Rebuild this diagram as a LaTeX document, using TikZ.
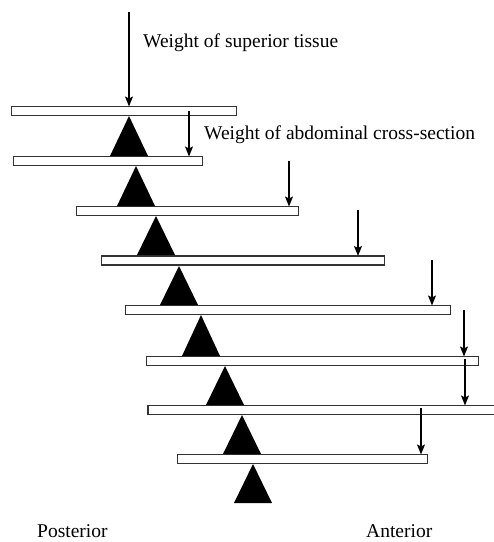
\documentclass[tikz,border=0pt]{standalone}
\usepackage{fontspec}
\setmainfont{Liberation Serif}
\usetikzlibrary{arrows.meta}
\begin{document}
\begin{tikzpicture}[x=1pt,y=-1pt,
  beam/.style={draw=black!80, line width=1.1pt, fill=white, rectangle, inner sep=0pt, minimum height=9pt},
  pivot/.style={fill=black},
  load/.style={draw=black, line width=1.4pt, -{Stealth[length=10pt,width=8pt,inset=2pt]}, shorten >=-0.5pt},
  lbl/.style={font=\fontsize{19.5}{23}\selectfont, inner sep=0pt, anchor=base west}]
\useasboundingbox (0,0) rectangle (494,542);
\clip (0,0) rectangle (494,542);
% beams
\node[beam, minimum width=225pt] (b1) at (124,111) {};
\node[beam, minimum width=189pt] (b2) at (108,161) {};
\node[beam, minimum width=222pt] (b3) at (187.5,211) {};
\node[beam, minimum width=283pt] (b4) at (243,260.5) {};
\node[beam, minimum width=325pt] (b5) at (288,310) {};
\node[beam, minimum width=332pt] (b6) at (312.5,361) {};
\node[beam, minimum width=362pt] (b7) at (329,410) {};
\node[beam, minimum width=250pt] (b8) at (302.5,459) {};
% pivots
\fill[pivot] (129,116) -- (110,156) -- (148,156) -- cycle;
\fill[pivot] (136,166) -- (117,206) -- (155,206) -- cycle;
\fill[pivot] (156,216) -- (137,255) -- (175,255) -- cycle;
\fill[pivot] (179,266) -- (160,305) -- (198,305) -- cycle;
\fill[pivot] (201,315) -- (182,356) -- (220,356) -- cycle;
\fill[pivot] (225,366) -- (206,405) -- (244,405) -- cycle;
\fill[pivot] (242,415) -- (223,454) -- (261,454) -- cycle;
\fill[pivot] (253,464) -- (234,503) -- (272,503) -- cycle;
% loads
\coordinate (s1) at (129,12);
\coordinate (s2) at (189,111);
\coordinate (s3) at (289,161);
\coordinate (s4) at (358,210);
\coordinate (s5) at (432,260);
\coordinate (s6) at (464,310);
\coordinate (s7) at (465,359);
\coordinate (s8) at (421,408);
\draw[load] (s1) -- (s1 |- b1.north);
\draw[load] (s2) -- (s2 |- b2.north);
\draw[load] (s3) -- (s3 |- b3.north);
\draw[load] (s4) -- (s4 |- b4.north);
\draw[load] (s5) -- (s5 |- b5.north);
\draw[load] (s6) -- (s6 |- b6.north);
\draw[load] (s7) -- (s7 |- b7.north);
\draw[load] (s8) -- (s8 |- b8.north);
% labels
\node[lbl] (t1) at (143,47) {Weight of superior tissue};
\node[lbl] (t2) at (204,139) {Weight of abdominal cross-section};
\node[lbl] (t3) at (37,537.5) {Posterior};
\node[lbl] (t4) at (366,537) {Anterior};
\end{tikzpicture}
\end{document}
